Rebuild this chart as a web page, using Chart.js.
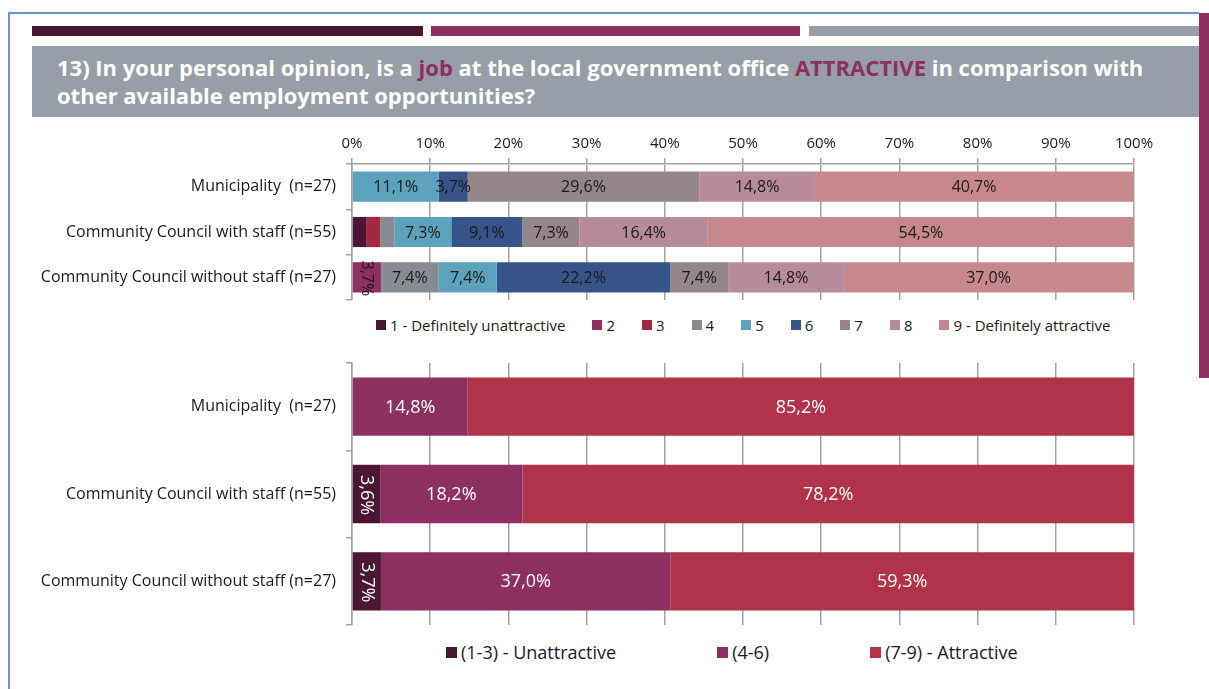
<!DOCTYPE html>
<html>
<head>
<meta charset="utf-8">
<script src="https://cdn.jsdelivr.net/npm/chart.js@4.4.0/dist/chart.umd.min.js"></script>
<style>
  body { margin: 0; width: 1209px; height: 689px; background: #fff; position: relative; overflow: hidden; font-family: "Open Sans", Lato, sans-serif; color: #1a1a1a; }
  .frame-top { position: absolute; left: 8px; top: 12px; width: 1191px; height: 2px; background: #6b96cc; }
  .frame-left { position: absolute; left: 8px; top: 12px; width: 2px; height: 677px; background: #6b96cc; }
  .side { position: absolute; left: 1199px; top: 13px; width: 10px; height: 365px; background: #8e2f62; }
  .strip { position: absolute; top: 26px; height: 10px; }
  .title { position: absolute; left: 32px; top: 46px; width: 1142px; height: 71px; padding-left: 25px; box-sizing: content-box; background: #979ea7; color: #fff; font-weight: bold; font-size: 22px; line-height: 28px; }
  .title div { white-space: nowrap; }
  .title span { color: #8e2f62; }
  canvas { position: absolute; left: 0; }
  .legend { position: absolute; display: flex; align-items: center; white-space: nowrap; }
  .legend .item { display: flex; align-items: center; }
  .legend .box { display: inline-block; margin-right: 4px; }
</style>
</head>
<body>
<div class="frame-top"></div>
<div class="frame-left"></div>
<div class="strip" style="left:32px;width:391px;background:#4b1632"></div>
<div class="strip" style="left:431px;width:369px;background:#8e2f62"></div>
<div class="strip" style="left:809px;width:390px;background:#979ea7"></div>
<div class="side"></div>
<div class="title">
  <div style="padding-top:7px">13) In your personal opinion, is a <span>job</span> at the local government office <span>ATTRACTIVE</span> in comparison with</div>
  <div>other available employment opportunities?</div>
</div>

<canvas id="detail" width="1160" height="185" style="top:120px"></canvas>
<div class="legend" id="detailLegend" style="left:376px;top:315px;font-size:15px;gap:27px"></div>

<canvas id="summary" width="1160" height="275" style="top:355px"></canvas>
<div class="legend" id="summaryLegend" style="left:446px;top:640px;font-size:18px;gap:101px"></div>

<script>
const groups = ['Municipality  (n=27)', 'Community Council with staff (n=55)', 'Community Council without staff (n=27)'];

// answers on the 1..9 scale, in percent, one entry per group
const scaleLabels = ['1 - Definitely unattractive', '2', '3', '4', '5', '6', '7', '8', '9 - Definitely attractive'];
const score1 = [0, 1.8, 0];
const score2 = [0, 0, 3.7];
const score3 = [0, 1.8, 0];
const score4 = [0, 1.8, 7.4];
const score5 = [11.1, 7.3, 7.4];
const score6 = [3.7, 9.1, 22.2];
const score7 = [29.6, 7.3, 7.4];
const score8 = [14.8, 16.4, 14.8];
const score9 = [40.7, 54.5, 37.0];
const scaleColors = ['#4b1632', '#8e2f62', '#a12a42', '#878c93', '#5ba2ba', '#36548a', '#958789', '#b78b9b', '#c6888d'];

// same answers grouped into three bands
const bandLabels = ['(1-3) - Unattractive', '(4-6)', '(7-9) - Attractive'];
const unattractive = [0, 3.6, 3.7];
const neutral = [14.8, 18.2, 37.0];
const attractive = [85.2, 78.2, 59.3];
const bandColors = ['#4b1632', '#8e2f62', '#b0334a'];

const fontFamily = '"Open Sans", Lato, sans-serif';
const gridColor = '#a3a3a3';

function pct(v) {
  return v.toFixed(1).replace('.', ',') + '%';
}

// writes the value in the middle of each segment
const barLabels = {
  id: 'barLabels',
  afterDatasetsDraw(chart, args, opts) {
    const ctx = chart.ctx;
    ctx.save();
    ctx.font = opts.font;
    ctx.fillStyle = opts.color;
    ctx.textAlign = 'center';
    ctx.textBaseline = 'middle';
    chart.data.datasets.forEach((ds, i) => {
      chart.getDatasetMeta(i).data.forEach((bar, j) => {
        const v = ds.data[j];
        if (!v || v < opts.min) return;
        ctx.save();
        ctx.translate((bar.x + bar.base) / 2, bar.y + 1);
        if (opts.rotate(i, j, v)) ctx.rotate(Math.PI / 2);
        ctx.fillText(pct(v), 0, 0);
        ctx.restore();
      });
    });
    ctx.restore();
  }
};

function makeOptions(showTicks, labelOpts, axisHeight, top, bottom) {
  return {
    indexAxis: 'y',
    responsive: false,
    animation: false,
    layout: { padding: { left: 0, right: 26, top: top, bottom: bottom } },
    plugins: {
      legend: { display: false },
      tooltip: { enabled: false },
      barLabels: labelOpts
    },
    datasets: { bar: { categoryPercentage: 0.667, barPercentage: 1, borderWidth: 0 } },
    scales: {
      x: {
        stacked: true,
        position: showTicks ? 'top' : 'bottom',
        min: 0,
        max: 100,
        afterFit(scale) { scale.height = axisHeight; },
        grid: { color: gridColor, lineWidth: 1.5, drawTicks: showTicks, tickLength: 6, tickColor: gridColor },
        border: { display: showTicks, color: gridColor, width: 1.5 },
        ticks: {
          display: showTicks,
          stepSize: 10,
          padding: 5,
          color: '#1a1a1a',
          font: { family: fontFamily, size: 15 },
          callback: v => v + '%'
        }
      },
      y: {
        stacked: true,
        afterFit(scale) {
          scale.width = 352;
          scale.paddingTop = 0;
          scale.paddingBottom = 0;
        },
        grid: { drawOnChartArea: false, drawTicks: true, tickLength: 6, offset: true, color: gridColor, lineWidth: 1.5 },
        border: { display: true, color: gridColor, width: 1.5 },
        ticks: { padding: 10, color: '#1a1a1a', font: { family: fontFamily, size: 16 } }
      }
    }
  };
}

const detailSeries = [score1, score2, score3, score4, score5, score6, score7, score8, score9];
new Chart(document.getElementById('detail'), {
  type: 'bar',
  data: {
    labels: groups,
    datasets: detailSeries.map((d, i) => ({ label: scaleLabels[i], data: d, backgroundColor: scaleColors[i] }))
  },
  options: makeOptions(true, {
    font: '16px ' + fontFamily,
    color: '#1a1a1a',
    min: 2,
    rotate: (i) => i === 1
  }, 44, 0, 5),
  plugins: [barLabels]
});

const summarySeries = [unattractive, neutral, attractive];
new Chart(document.getElementById('summary'), {
  type: 'bar',
  data: {
    labels: groups,
    datasets: summarySeries.map((d, i) => ({ label: bandLabels[i], data: d, backgroundColor: bandColors[i] }))
  },
  options: makeOptions(false, {
    font: '18px ' + fontFamily,
    color: '#ffffff',
    min: 2,
    rotate: (i, j, v) => v < 5
  }, 0, 8, 5),
  plugins: [barLabels]
});

function fillLegend(id, labels, colors, box) {
  const el = document.getElementById(id);
  labels.forEach((label, i) => {
    const item = document.createElement('div');
    item.className = 'item';
    item.innerHTML = '<span class="box" style="width:' + box + 'px;height:' + box + 'px;background:' + colors[i] + '"></span>' + label;
    el.appendChild(item);
  });
}
fillLegend('detailLegend', scaleLabels, scaleColors, 10);
fillLegend('summaryLegend', bandLabels, bandColors, 11);
</script>
</body>
</html>
